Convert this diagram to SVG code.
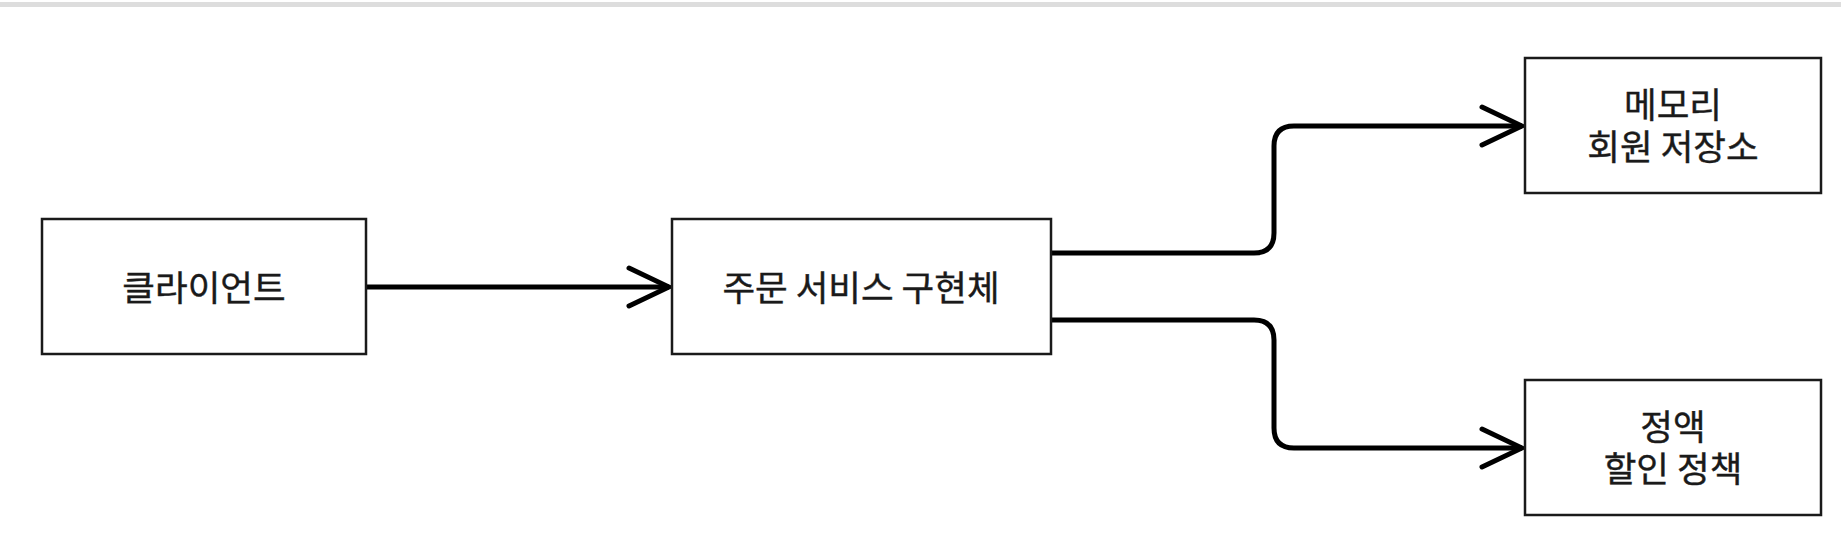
<svg xmlns="http://www.w3.org/2000/svg" width="1841" height="558" viewBox="0 0 1841 558">
  <style>
    .box { fill: #ffffff; stroke: #1a1a1a; stroke-width: 2.5; }
    .lbl { font-family: "Noto Sans CJK KR", "Noto Sans", sans-serif; font-size: 35.5px; fill: #1a1a1a; stroke: #1a1a1a; stroke-width: 0.4; text-anchor: middle; }
    .edge { fill: none; stroke: #000000; stroke-width: 5; stroke-linejoin: round; }
  </style>
  <defs>
    <marker id="chev" markerUnits="userSpaceOnUse" viewBox="-46 -24 50 48" refX="0" refY="0" markerWidth="50" markerHeight="48" orient="auto">
      <polyline points="-40,-19 0,0 -40,19" fill="none" stroke="#000000" stroke-width="5" stroke-linecap="round" stroke-linejoin="miter"/>
    </marker>
  </defs>
  <rect x="0" y="0" width="1841" height="558" fill="#ffffff"/>
  <rect x="0" y="2" width="1841" height="5" fill="#dddddd"/>

  <g id="connectors">
    <path class="edge" d="M366,287 L669,287" marker-end="url(#chev)"/>
    <path class="edge" d="M1051,253 L1254,253 Q1274,253 1274,233 L1274,146 Q1274,126 1294,126 L1522,126" marker-end="url(#chev)"/>
    <path class="edge" d="M1051,320 L1254,320 Q1274,320 1274,340 L1274,428 Q1274,448 1294,448 L1522,448" marker-end="url(#chev)"/>
  </g>

  <g id="client">
    <rect class="box" x="42" y="219" width="324" height="135"/>
    <text class="lbl" x="204" y="301">클라이언트</text>
  </g>

  <g id="order-service">
    <rect class="box" x="672" y="219" width="379" height="135"/>
    <text class="lbl" x="861" y="301">주문 서비스 구현체</text>
  </g>

  <g id="memory-repo">
    <rect class="box" x="1525" y="58" width="296" height="135"/>
    <text class="lbl" x="1673" y="118">메모리</text>
    <text class="lbl" x="1673" y="160">회원 저장소</text>
  </g>

  <g id="fix-discount">
    <rect class="box" x="1525" y="380" width="296" height="135"/>
    <text class="lbl" x="1673" y="440">정액</text>
    <text class="lbl" x="1673" y="482">할인 정책</text>
  </g>
</svg>
